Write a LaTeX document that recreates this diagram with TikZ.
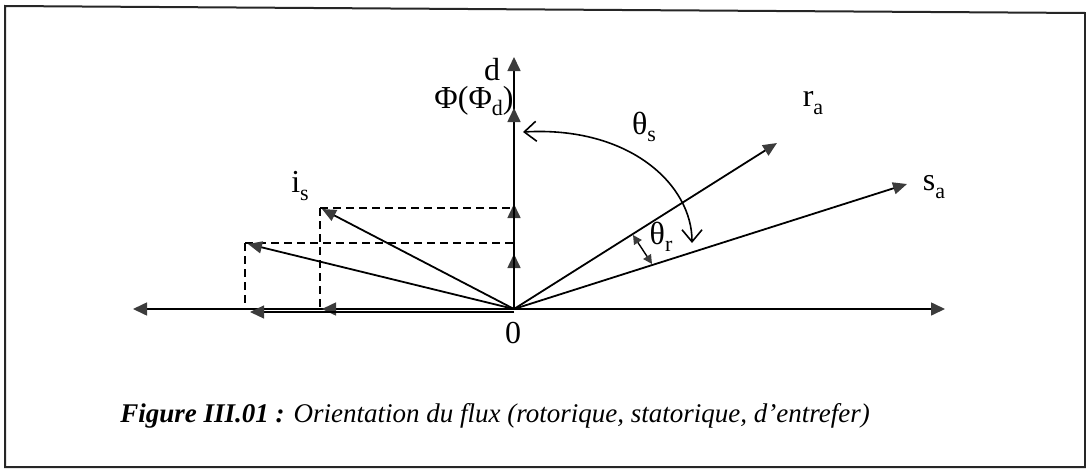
\documentclass[tikz,border=0pt]{standalone}
\usepackage{fontspec}
\setmainfont{Liberation Serif}
\usetikzlibrary{arrows.meta}
\definecolor{arrgray}{HTML}{3C3C3C}
\newcommand\lsub[1]{\raisebox{-0.5ex}{\fontsize{11}{12}\selectfont #1}}
\tikzset{
  vec/.style={line width=0.9pt, -{Triangle[length=7pt,width=6pt,color=arrgray]}},
  axis/.style={line width=0.8pt, -{Triangle[length=7pt,width=6.5pt,color=arrgray]}},
  proj/.style={line width=0.8pt, dashed, dash pattern=on 4pt off 2.5pt},
  lbl/.style={font=\fontsize{16}{18}\selectfont, inner sep=0pt},
  frame/.style={line width=1pt, black!85}
}
\begin{document}
\begin{tikzpicture}[x=0.5pt,y=-0.5pt]
\useasboundingbox (0,0) rectangle (1086,471);
% frame
\draw[frame] (5,6) -- (1085,13) -- (1085,467) -- (5,467) -- cycle;
% points
\coordinate (O) at (514,309);
\coordinate (O2) at (514,312);
\coordinate (xR) at (945,309);
\coordinate (xL) at (133,309);
\coordinate (d) at (514,57);
\coordinate (d1) at (514,254);
\coordinate (d2) at (514,204);
\coordinate (d3) at (514,108);
\coordinate (h1) at (322,309);
\coordinate (h2) at (250,312);
\coordinate (ra) at (777,143);
\coordinate (sa) at (907,184);
\coordinate (i1) at (322,209);
\coordinate (i2) at (248,244);
\coordinate (p1) at (320,208);
\coordinate (p2) at (245,243);
\coordinate (q1) at (514,208);
\coordinate (q2) at (514,243);
\coordinate (f1) at (320,309);
\coordinate (f2) at (245,309);
% dashed projections
\draw[proj] (p1) -- (q1);
\draw[proj] (p1) -- (f1);
\draw[proj] (p2) -- (q2);
\draw[proj] (p2) -- (f2);
% axes
\draw[axis] (O) -- (xR);
\draw[axis] (O) -- (xL);
\draw[axis] (O) -- (d);
\draw[axis] (O) -- (d1);
\draw[axis] (O) -- (d2);
\draw[axis] (O) -- (d3);
\draw[axis] (O) -- (h1);
\draw[axis, line width=0.6pt] (O2) -- (h2);
% vectors
\draw[vec] (O) -- (ra);
\draw[vec] (O) -- (sa);
\draw[vec] (O) -- (i1);
\draw[vec] (O) -- (i2);
% theta_s arc
\coordinate (ts1) at (523,132);
\coordinate (ts2) at (692,243);
\draw[line width=0.8pt, {Straight Barb[length=6pt,width=10pt]}-{Straight Barb[length=6pt,width=10pt]}]
  (ts1) .. controls (630,126) and (692,185) .. (ts2);
% theta_r
\coordinate (tr1) at (633,235);
\coordinate (tr2) at (652,264);
\draw[line width=0.7pt, {Triangle[length=4.5pt,width=4.5pt,color=arrgray]}-{Triangle[length=4.5pt,width=4.5pt,color=arrgray]}] (tr1) -- (tr2);
% labels
\node[lbl] (ld) at (492,70) {d};
\node[lbl] (lphi) at (474,101) {Φ(Φ\lsub{d})};
\node[lbl] (lis) at (300,186) {i\lsub{s}};
\node[lbl] (lra) at (813,103) {r\lsub{a}};
\node[lbl] (lsa) at (934,187) {s\lsub{a}};
\node[lbl] (lts) at (644,127) {θ\lsub{s}};
\node[lbl] (ltr) at (661,237) {θ\lsub{r}};
\node[lbl] (l0) at (513,333) {0};
\node[anchor=base west, inner sep=0pt, font=\fontsize{13.5}{15}\selectfont] (cap) at (120,422)
  {\textbf{\textit{Figure III.01 :}} \textit{Orientation du flux (rotorique, statorique, d’entrefer)}};
\end{tikzpicture}
\end{document}
